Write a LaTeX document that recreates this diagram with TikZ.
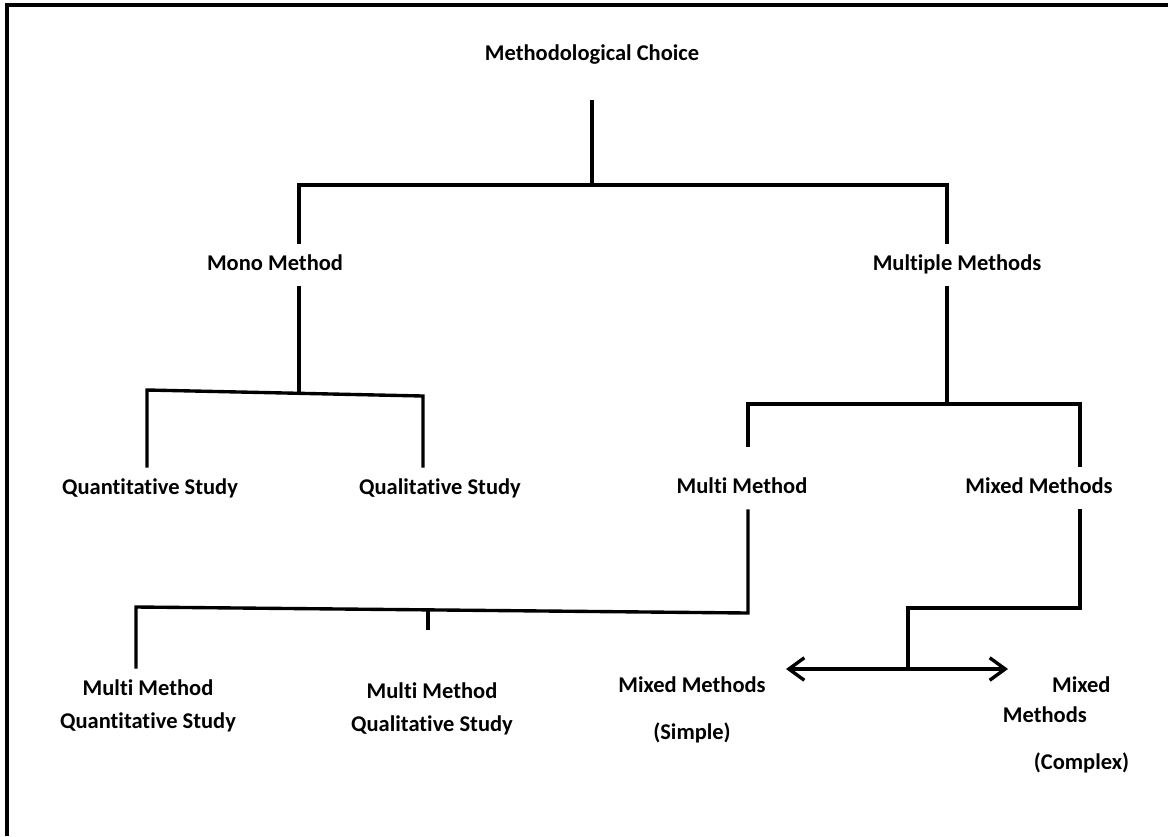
\documentclass[tikz,border=0pt]{standalone}
\usepackage{fontspec}
\setmainfont{Carlito}[Ligatures=NoCommon]
\usetikzlibrary{positioning,arrows.meta}

\begin{document}
\begin{tikzpicture}[x=0.025cm,y=-0.025cm,
	lbl/.style={font=\bfseries\fontsize{16}{19}\selectfont,inner xsep=4pt,inner ysep=8pt,align=center},
	single/.style={lbl,text height=11pt,text depth=3pt},
	ln/.style={line width=2.4pt},
	barb/.style={{Straight Barb[length=11pt,width=16pt]}-{Straight Barb[length=11pt,width=16pt]}}]
	\useasboundingbox (0,0) rectangle (1168,836);
	\draw[line width=2.2pt] (7,836) -- (7,5) -- (1168,5);
	% labels
	\node[single] (choice) at (592,55) {Methodological Choice};
	\node[single] (mono) at (275,265) {Mono Method};
	\node[single] (multiple) at (957,265) {Multiple Methods};
	\node[single] (quant) at (150,489) {Quantitative Study};
	\node[single] (qual) at (440,489) {Qualitative Study};
	\node[single] (multi) at (742,488) {Multi Method};
	\node[single] (mixed) at (1039,488) {Mixed Methods};
	\node[lbl] (mmquant) at (148,706) {Multi Method\\[4pt]Quantitative Study};
	\node[lbl] (mmqual) at (432,709) {Multi Method\\[4pt]Qualitative Study};
	\node[lbl] (simple) at (692,710) {Mixed Methods\\[14pt](Simple)};
	\node[lbl,align=left,anchor=west] (complex) at (997,725)
		{\hspace*{35pt}Mixed\\[2pt]Methods\\[15pt]\hspace*{22pt}(Complex)};
	% junctions
	\coordinate (top) at (592,100);
	\coordinate (split) at (592,185);
	\coordinate (lsplit) at (299,185);
	\coordinate (rsplit) at (947,185);
	\coordinate (monojoin) at (299,392);
	\coordinate (quantcorner) at (147,390);
	\coordinate (qualcorner) at (423,396);
	\coordinate (multijoin) at (947,404);
	\coordinate (multicorner) at (748,404);
	\coordinate (mixedcorner) at (1080,404);
	\coordinate (mmbend) at (748,613);
	\coordinate (mmleft) at (136,607);
	\coordinate (mmtick) at (428,610);
	\coordinate (mixbend) at (1080,608);
	\coordinate (mixstep) at (908,608);
	\coordinate (mixfoot) at (908,669);
	\coordinate (simpletip) at (786,669);
	\coordinate (complextip) at (1008,669);
	% tree
	\draw[ln] (top) -- (split);
	\draw[ln] (lsplit |- mono.north) -- (lsplit) -- (rsplit) -- (rsplit |- multiple.north);
	\draw[ln] (mono.south -| monojoin) -- (monojoin);
	\draw[ln] (quantcorner |- quant.north) -- (quantcorner) -- (qualcorner) -- (qualcorner |- qual.north);
	\draw[ln] (multiple.south -| multijoin) -- (multijoin);
	\draw[ln,shorten <=14pt] (multicorner |- multi.north) -- (multicorner) -- (mixedcorner) -- (mixedcorner |- mixed.north);
	\draw[ln] (multi.south -| mmbend) -- (mmbend) -- (mmleft) -- (mmleft |- mmquant.north);
	\draw[ln] (mmtick) -- ++(0,20);
	\draw[ln] (mixed.south -| mixbend) -- (mixbend) -- (mixstep) -- (mixfoot);
	\draw[ln,barb] (simpletip) -- (complextip);
\end{tikzpicture}
\end{document}
